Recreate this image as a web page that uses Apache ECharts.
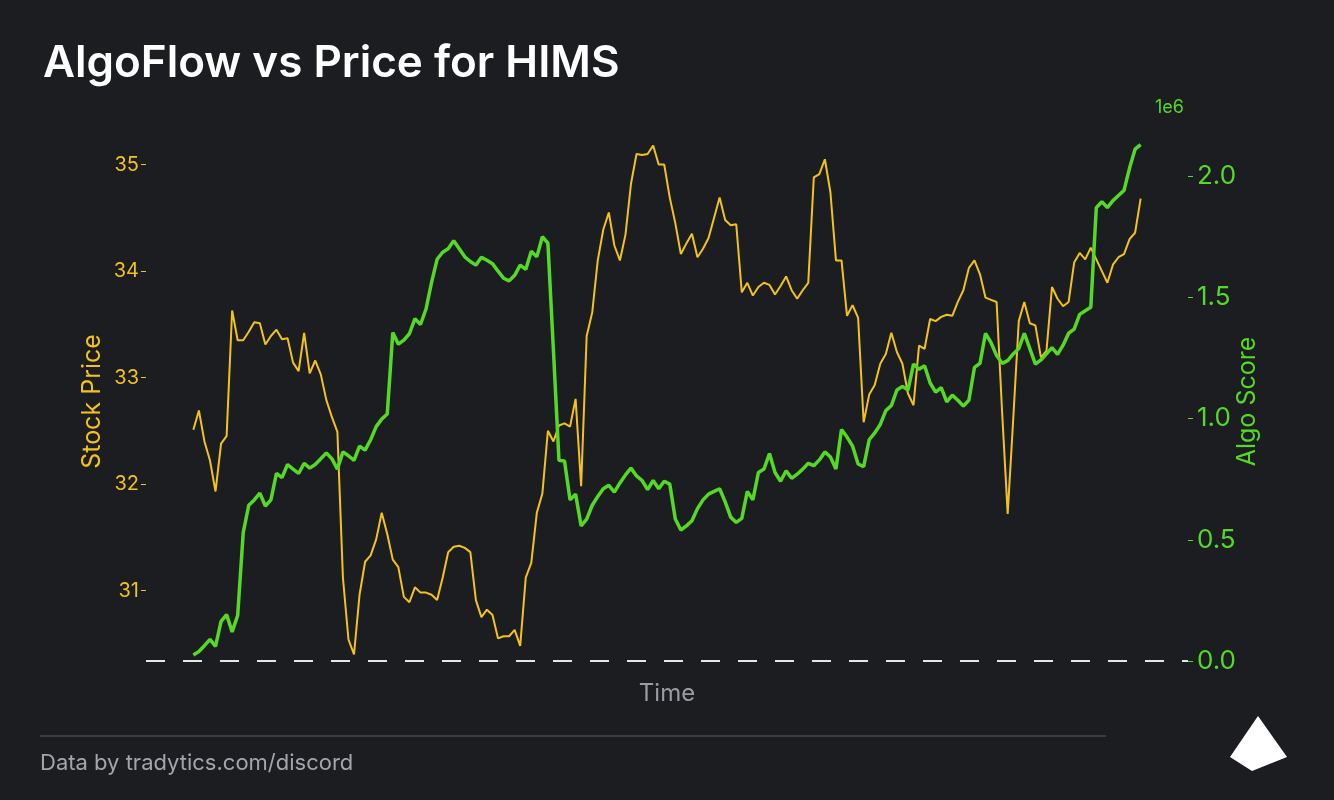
<!DOCTYPE html>
<html>
<head>
<meta charset="utf-8">
<title>AlgoFlow vs Price for HIMS</title>
<script src="https://cdn.jsdelivr.net/npm/echarts@6.0.0/dist/echarts.min.js"></script>
<style>
  html, body { margin: 0; padding: 0; background: #1c1d21; }
  #chart { width: 1334px; height: 800px; }
</style>
</head>
<body>
<div id="chart"></div>
<script>
// stock price, one value per time step
var stockPrice = [
  32.51, 32.69, 32.40, 32.22, 31.93, 32.38, 32.45, 33.63, 33.35, 33.35,
  33.43, 33.52, 33.51, 33.31, 33.39, 33.45, 33.36, 33.37, 33.14, 33.06,
  33.42, 33.04, 33.16, 33.03, 32.79, 32.63, 32.49, 31.12, 30.54, 30.40,
  30.96, 31.27, 31.33, 31.48, 31.73, 31.53, 31.29, 31.22, 30.94, 30.89,
  31.03, 30.98, 30.98, 30.96, 30.91, 31.12, 31.36, 31.41, 31.42, 31.40,
  31.36, 30.91, 30.75, 30.82, 30.77, 30.55, 30.57, 30.57, 30.63, 30.48,
  31.12, 31.26, 31.73, 31.91, 32.50, 32.40, 32.55, 32.57, 32.54, 32.80,
  31.98, 33.39, 33.61, 34.10, 34.39, 34.55, 34.24, 34.10, 34.34, 34.82,
  35.10, 35.09, 35.10, 35.18, 35.00, 35.00, 34.69, 34.45, 34.16, 34.26,
  34.35, 34.13, 34.21, 34.31, 34.50, 34.69, 34.48, 34.43, 34.44, 33.80,
  33.89, 33.77, 33.85, 33.89, 33.87, 33.78, 33.86, 33.95, 33.82, 33.74,
  33.82, 33.89, 34.88, 34.91, 35.05, 34.74, 34.10, 34.10, 33.58, 33.68,
  33.56, 32.58, 32.84, 32.93, 33.13, 33.22, 33.42, 33.24, 33.13, 32.85,
  32.74, 33.30, 33.27, 33.55, 33.53, 33.57, 33.59, 33.58, 33.71, 33.82,
  34.03, 34.10, 33.97, 33.75, 33.73, 33.71, 32.67, 31.72, 32.61, 33.53,
  33.71, 33.51, 33.49, 33.19, 33.25, 33.85, 33.74, 33.67, 33.71, 34.08,
  34.17, 34.11, 34.22, 34.11, 34.00, 33.89, 34.06, 34.13, 34.16, 34.30,
  34.36, 34.68
];

// algo score, same time steps
var algoScore = [
  26000, 40000, 64000, 90000, 61000, 164000, 192000, 121000, 189000, 530000,
  643000, 665000, 693000, 640000, 665000, 774000, 757000, 811000, 792000, 774000,
  816000, 796000, 811000, 835000, 859000, 835000, 792000, 863000, 847000, 828000,
  887000, 870000, 913000, 967000, 998000, 1019000, 1355000, 1307000, 1324000, 1350000,
  1412000, 1388000, 1452000, 1562000, 1657000, 1686000, 1700000, 1733000, 1700000, 1667000,
  1648000, 1633000, 1665000, 1653000, 1639000, 1608000, 1579000, 1568000, 1591000, 1633000,
  1615000, 1690000, 1667000, 1750000, 1724000, 1281000, 828000, 825000, 665000, 689000,
  558000, 586000, 643000, 679000, 711000, 725000, 697000, 735000, 768000, 796000,
  764000, 745000, 707000, 745000, 711000, 742000, 730000, 586000, 541000, 558000,
  579000, 629000, 665000, 689000, 700000, 711000, 657000, 594000, 572000, 589000,
  700000, 665000, 778000, 792000, 856000, 778000, 742000, 785000, 754000, 771000,
  792000, 816000, 806000, 830000, 863000, 842000, 792000, 955000, 924000, 887000,
  813000, 802000, 913000, 941000, 976000, 1033000, 1054000, 1118000, 1133000, 1118000,
  1225000, 1204000, 1218000, 1147000, 1109000, 1128000, 1069000, 1097000, 1076000, 1052000,
  1076000, 1211000, 1228000, 1352000, 1313000, 1260000, 1228000, 1239000, 1267000, 1289000,
  1352000, 1289000, 1225000, 1242000, 1267000, 1293000, 1265000, 1303000, 1352000, 1369000,
  1430000, 1445000, 1459000, 1870000, 1894000, 1870000, 1899000, 1920000, 1941000, 2033000,
  2111000, 2130000
];

var priceTicks = [31, 32, 33, 34, 35];
var algoTicks = [0, 500000, 1000000, 1500000, 2000000];

var YELLOW = '#f2c31b';
var GREEN = '#55d925';
var BG = '#1c1d21';
var FONT = 'Inter, "Noto Sans", sans-serif';

var n = stockPrice.length;
var pad = (n - 1) * 0.05;
var priceData = stockPrice.map(function (v, i) { return [i, v]; });
var algoData = algoScore.map(function (v, i) { return [i, v]; });

var chart = echarts.init(document.getElementById('chart'));
var option = {
  backgroundColor: BG,
  animation: false,
  textStyle: { fontFamily: FONT },
  title: {
    text: 'AlgoFlow vs Price for HIMS',
    left: 38,
    top: 37,
    textStyle: { color: '#ffffff', fontSize: 44, fontWeight: 600, fontFamily: FONT }
  },
  grid: { left: 146, right: 146, top: 122, bottom: 119 },
  xAxis: {
    type: 'value',
    min: -pad,
    max: n - 1 + pad,
    name: 'Time',
    nameLocation: 'middle',
    nameGap: 1,
    nameMoveOverlap: false,
    nameTextStyle: { color: '#9b9ca2', fontSize: 24, fontFamily: FONT, verticalAlign: 'top' },
    axisLine: { show: false, onZero: false },
    axisTick: { show: false },
    axisLabel: { show: false },
    splitLine: { show: false }
  },
  yAxis: [
    {
      type: 'value',
      position: 'left',
      min: 30.15,
      max: 35.4,
      name: 'Stock Price',
      nameLocation: 'middle',
      nameRotate: 90,
      nameGap: 41,
      nameMoveOverlap: false,
      nameTextStyle: { color: YELLOW, fontSize: 25, fontFamily: FONT },
      axisLine: { show: false, onZero: false },
      splitLine: { show: false },
      axisTick: {
        show: true, length: 5, customValues: priceTicks,
        lineStyle: { color: YELLOW, width: 1 }
      },
      axisLabel: {
        customValues: priceTicks, color: YELLOW, fontSize: 20, margin: 7,
        fontFamily: FONT
      }
    },
    {
      type: 'value',
      position: 'right',
      min: -81600,
      max: 2223000,
      name: 'Algo Score',
      nameLocation: 'middle',
      nameRotate: 90,
      nameGap: 47,
      nameMoveOverlap: false,
      nameTextStyle: { color: GREEN, fontSize: 25, fontFamily: FONT },
      axisLine: { show: false, onZero: false },
      splitLine: { show: false },
      axisTick: {
        show: true, length: 5, customValues: algoTicks,
        lineStyle: { color: GREEN, width: 1 }
      },
      axisLabel: {
        customValues: algoTicks, color: GREEN, fontSize: 26, margin: 9,
        fontFamily: FONT,
        formatter: function (v) { return (v / 1e6).toFixed(1); }
      }
    }
  ],
  series: [
    {
      name: 'Stock Price',
      type: 'line',
      yAxisIndex: 0,
      data: priceData,
      showSymbol: false,
      z: 2,
      lineStyle: { color: YELLOW, width: 2 }
    },
    {
      name: 'Algo Score',
      type: 'line',
      yAxisIndex: 1,
      data: algoData,
      showSymbol: false,
      z: 3,
      lineStyle: { color: GREEN, width: 3.5 },
      markLine: {
        silent: true,
        symbol: 'none',
        label: { show: false },
        lineStyle: { color: '#e6e6e6', width: 2, type: [19, 18] },
        data: [{ yAxis: 0 }]
      }
    }
  ],
  graphic: [
    {
      type: 'text', left: 1155, top: 99,
      style: { text: '1e6', fill: GREEN, font: '18px ' + FONT }
    },
    {
      type: 'line',
      shape: { x1: 40, y1: 736, x2: 1106, y2: 736 },
      style: { stroke: '#3a3b40', lineWidth: 2 }
    },
    {
      type: 'text', left: 40, top: 752,
      style: { text: 'Data by tradytics.com/discord', fill: '#a4a5ab', font: '22px ' + FONT }
    },
    {
      type: 'polygon',
      shape: { points: [[1258, 716], [1287, 757], [1252, 771], [1230, 757]] },
      style: { fill: '#ffffff' }
    }
  ]
};
chart.setOption(option);
window.addEventListener('resize', chart.resize);
</script>
</body>
</html>
